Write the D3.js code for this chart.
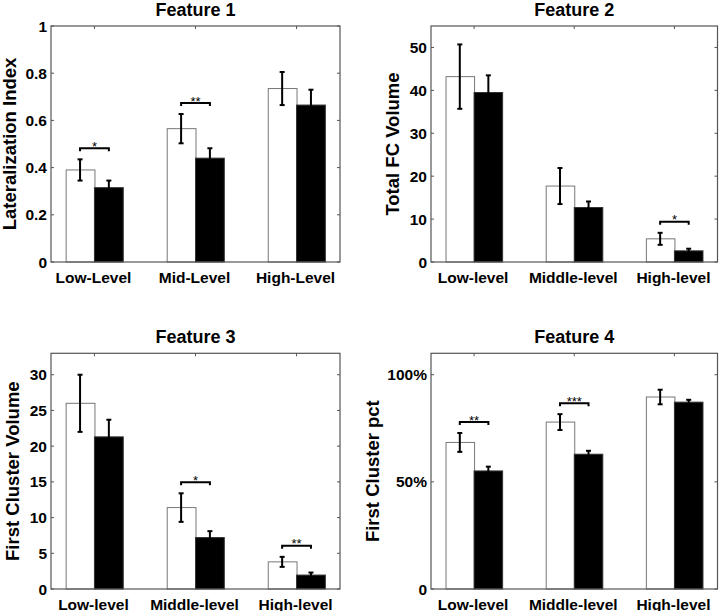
<!DOCTYPE html>
<html>
<head>
<meta charset="utf-8">
<script src="https://cdn.jsdelivr.net/npm/d3@7"></script>
<style>
  html, body { margin: 0; padding: 0; background: #fff; }
  svg { display: block; font-family: "Liberation Sans", Arial, sans-serif; }
</style>
</head>
<body>
<svg id="chart" width="720" height="611"></svg>
<script>
// ---------- data ----------
const categoriesF1 = ["Low-Level", "Mid-Level", "High-Level"];
const categoriesF234 = ["Low-level", "Middle-level", "High-level"];

const f1White = [0.39, 0.565, 0.735];
const f1WhiteErr = [0.045, 0.062, 0.07];
const f1Black = [0.315, 0.44, 0.665];
const f1BlackErr = [0.03, 0.042, 0.065];
const f1Sig = ["*", "**", ""];
const f1Ticks = [0, 0.2, 0.4, 0.6, 0.8, 1];
const f1TickLabels = ["0", "0.2", "0.4", "0.6", "0.8", "1"];

const f2White = [43.2, 17.7, 5.4];
const f2WhiteErr = [7.5, 4.2, 1.4];
const f2Black = [39.5, 12.7, 2.6];
const f2BlackErr = [4.0, 1.4, 0.5];
const f2Sig = ["", "", "*"];
const f2Ticks = [0, 10, 20, 30, 40, 50];
const f2TickLabels = ["0", "10", "20", "30", "40", "50"];

const f3White = [26.0, 11.4, 3.8];
const f3WhiteErr = [4.0, 2.0, 0.7];
const f3Black = [21.3, 7.2, 1.95];
const f3BlackErr = [2.4, 0.9, 0.35];
const f3Sig = ["", "*", "**"];
const f3Ticks = [0, 5, 10, 15, 20, 25, 30];
const f3TickLabels = ["0", "5", "10", "15", "20", "25", "30"];

const f4White = [68.4, 77.9, 89.6];
const f4WhiteErr = [4.4, 3.7, 3.4];
const f4Black = [55.1, 62.9, 87.2];
const f4BlackErr = [2.0, 1.6, 1.1];
const f4Sig = ["**", "***", ""];
const f4Ticks = [0, 50, 100];
const f4TickLabels = ["0", "50%", "100%"];

const panels = [
  { title: "Feature 1", ylabel: "Lateralization Index", cats: categoriesF1,
    white: f1White, whiteErr: f1WhiteErr, black: f1Black, blackErr: f1BlackErr,
    sig: f1Sig, ticks: f1Ticks, tickLabels: f1TickLabels, ymax: 1,
    box: { x0: 51, x1: 340, y0: 26, y1: 262 }, ylabelX: 9 },
  { title: "Feature 2", ylabel: "Total FC Volume", cats: categoriesF234,
    white: f2White, whiteErr: f2WhiteErr, black: f2Black, blackErr: f2BlackErr,
    sig: f2Sig, ticks: f2Ticks, tickLabels: f2TickLabels, ymax: 55,
    box: { x0: 431, x1: 717.5, y0: 26, y1: 262 }, ylabelX: 392 },
  { title: "Feature 3", ylabel: "First Cluster Volume", cats: categoriesF234,
    white: f3White, whiteErr: f3WhiteErr, black: f3Black, blackErr: f3BlackErr,
    sig: f3Sig, ticks: f3Ticks, tickLabels: f3TickLabels, ymax: 33,
    box: { x0: 51, x1: 340, y0: 353.3, y1: 589 }, ylabelX: 12 },
  { title: "Feature 4", ylabel: "First Cluster pct", cats: categoriesF234,
    white: f4White, whiteErr: f4WhiteErr, black: f4Black, blackErr: f4BlackErr,
    sig: f4Sig, ticks: f4Ticks, tickLabels: f4TickLabels, ymax: 110,
    box: { x0: 431, x1: 717.5, y0: 353.3, y1: 589 }, ylabelX: 372 }
];

// ---------- drawing ----------
const svg = d3.select("#chart");
const AXIS_COLOR = "#555";
const barW = 0.285; // in category units

panels.forEach(p => {
  const b = p.box;
  const x = d3.scaleLinear().domain([0.57, 3.43]).range([b.x0, b.x1]);
  const y = d3.scaleLinear().domain([0, p.ymax]).range([b.y1, b.y0]);
  const g = svg.append("g");
  const idx = p.cats.map((c, i) => i);

  // bars
  g.selectAll(".w").data(idx).enter().append("rect")
    .attr("x", i => x(i + 1 - barW) + 0.5)
    .attr("y", i => y(p.white[i]))
    .attr("width", i => x(i + 1) - x(i + 1 - barW))
    .attr("height", i => y(0) - y(p.white[i]))
    .attr("fill", "#fff").attr("stroke", "#777").attr("stroke-width", 1);
  g.selectAll(".k").data(idx).enter().append("rect")
    .attr("x", i => x(i + 1))
    .attr("y", i => y(p.black[i]))
    .attr("width", i => x(i + 1 + barW) - x(i + 1))
    .attr("height", i => y(0) - y(p.black[i]))
    .attr("fill", "#000").attr("stroke", "#333").attr("stroke-width", 1);

  // error bars
  const errs = [];
  idx.forEach(i => {
    errs.push({ cx: i + 1 - barW / 2, v: p.white[i], e: p.whiteErr[i] });
    errs.push({ cx: i + 1 + barW / 2, v: p.black[i], e: p.blackErr[i] });
  });
  errs.forEach(d => {
    const cx = x(d.cx);
    const yt = y(d.v + d.e), yb = y(Math.max(0, d.v - d.e));
    g.append("line").attr("x1", cx).attr("x2", cx).attr("y1", yt).attr("y2", yb)
      .attr("stroke", "#000").attr("stroke-width", 2);
    [yt, yb].forEach(yy => {
      g.append("line").attr("x1", cx - 2.5).attr("x2", cx + 2.5).attr("y1", yy).attr("y2", yy)
        .attr("stroke", "#000").attr("stroke-width", 2);
    });
  });

  // significance brackets
  idx.forEach(i => {
    if (!p.sig[i]) return;
    const xa = x(i + 1 - barW / 2), xb = x(i + 1 + barW / 2);
    const top = Math.min(y(p.white[i] + p.whiteErr[i]), y(p.black[i] + p.blackErr[i]));
    const yy = top - 11;
    g.append("path")
      .attr("d", `M${xa},${yy + 3}V${yy}H${xb}V${yy + 3}`)
      .attr("fill", "none").attr("stroke", "#000").attr("stroke-width", 2);
    g.append("text").attr("x", (xa + xb) / 2).attr("y", yy + 2.5)
      .attr("text-anchor", "middle").attr("font-size", 13).attr("fill", "#000")
      .text(p.sig[i]);
  });

  // axes box
  g.append("rect").attr("x", b.x0).attr("y", b.y0)
    .attr("width", b.x1 - b.x0).attr("height", b.y1 - b.y0)
    .attr("fill", "none").attr("stroke", AXIS_COLOR).attr("stroke-width", 1.2);

  // y ticks (inward, both sides)
  p.ticks.forEach((t, k) => {
    const yy = y(t);
    g.append("line").attr("x1", b.x0).attr("x2", b.x0 + 3).attr("y1", yy).attr("y2", yy)
      .attr("stroke", AXIS_COLOR);
    g.append("line").attr("x1", b.x1 - 3).attr("x2", b.x1).attr("y1", yy).attr("y2", yy)
      .attr("stroke", AXIS_COLOR);
    g.append("text").attr("x", b.x0 - 4).attr("y", yy + 5.5)
      .attr("text-anchor", "end").attr("font-size", 15.5).attr("font-weight", "bold")
      .text(p.tickLabels[k]);
  });

  // x ticks at top and labels
  idx.forEach(i => {
    const xx = x(i + 1);
    g.append("line").attr("x1", xx).attr("x2", xx).attr("y1", b.y0).attr("y2", b.y0 + 3)
      .attr("stroke", AXIS_COLOR);
    g.append("text").attr("x", xx - 1).attr("y", b.y1 + 20.5)
      .attr("text-anchor", "middle").attr("font-size", 15.5).attr("font-weight", "bold")
      .text(p.cats[i]);
  });

  // title
  g.append("text").attr("x", (b.x0 + b.x1) / 2).attr("y", b.y0 - 10)
    .attr("text-anchor", "middle").attr("font-size", 18).attr("font-weight", "bold")
    .text(p.title);

  // y label
  const cy = (b.y0 + b.y1) / 2;
  g.append("text")
    .attr("transform", `translate(${p.ylabelX + 6.5},${cy}) rotate(-90)`)
    .attr("text-anchor", "middle").attr("font-size", 18.5).attr("font-weight", "bold")
    .text(p.ylabel);
});
</script>
</body>
</html>
